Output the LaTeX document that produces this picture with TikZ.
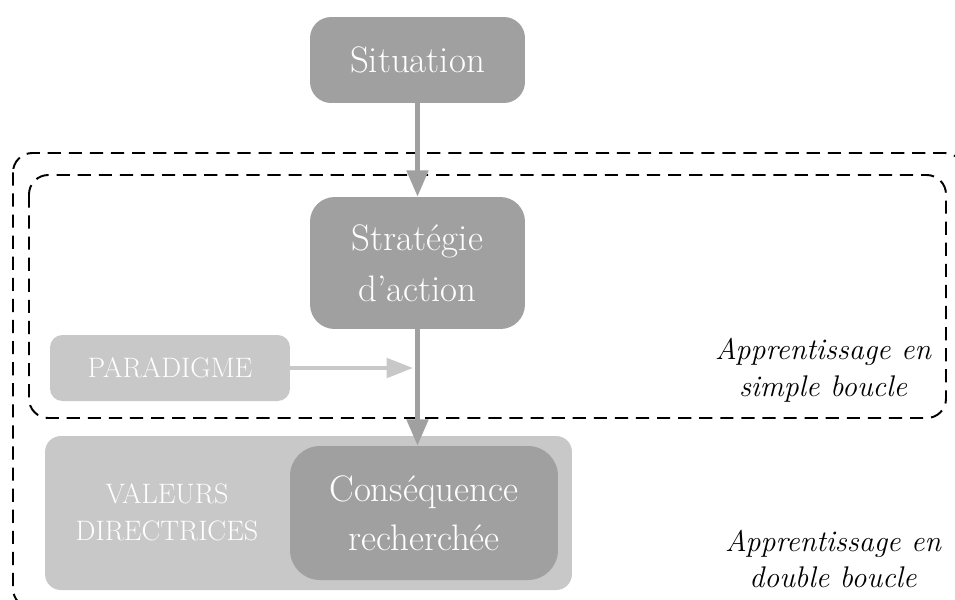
\documentclass[tikz,border=0pt]{standalone}
\usetikzlibrary{positioning,arrows.meta}
\definecolor{dark}{HTML}{A0A0A0}
\definecolor{light}{HTML}{C8C8C8}

\begin{document}
\begin{tikzpicture}[x=0.02cm,y=-0.02cm,
  box/.style={fill=dark,text=white,align=center,inner sep=0pt,font=\fontsize{21}{29}\selectfont},
  pale/.style={fill=light,text=white,align=center,inner sep=0pt,font=\fontsize{16}{21}\selectfont},
  loop/.style={draw=black,line width=1.1pt,dash pattern=on 7.5pt off 4.5pt,rounded corners=11pt},
  loopname/.style={align=center,font=\fontsize{17}{21}\selectfont\itshape},
  flow/.style={draw=dark,line width=2.8pt,-{Triangle[length=15pt,width=12pt]}},
  hint/.style={draw=light,line width=2.3pt,-{Triangle[length=15pt,width=11pt]}}]
\useasboundingbox (0,0) rectangle (955,599);

% the two learning loops, the outer one runs off the page
\draw[loop] (13,153) rectangle (964,608);
\draw[loop] (29,175) rectangle (946,418);

\node[box,rounded corners=12pt,minimum width=4.3cm,minimum height=1.72cm] (sit) at (417.5,60) {Situation};
\node[box,rounded corners=14pt,minimum width=4.3cm,minimum height=2.64cm] (strat) at (417.5,263) {Strat\'egie\\d'action};
\node[pale,rounded corners=7pt,minimum width=4.8cm,minimum height=1.32cm] (par) at (170,368) {PARADIGME};
\coordinate (tip) at (413,368);

% cons should be inside dir
\node[pale,rounded corners=9pt,minimum width=10.54cm,minimum height=3.08cm] (dir) at (308.5,513) {};
\node[pale,fill=none] (val) at (167,512) {VALEURS\\DIRECTRICES};
\node[box,rounded corners=17pt,minimum width=5.36cm,minimum height=2.68cm,font=\fontsize{21}{28}\selectfont] (cons) at (424,513) {Cons\'equence\\recherch\'ee};

\node[loopname] (simple) at (823,370) {Apprentissage en\\simple boucle};
\node[loopname] (double) at (833,559) {Apprentissage en\\double boucle};

\draw[flow] (sit) -- (strat);
\draw[flow] (strat) -- (strat |- cons.north);
\draw[hint] (par) -- (tip);
\end{tikzpicture}
\end{document}
